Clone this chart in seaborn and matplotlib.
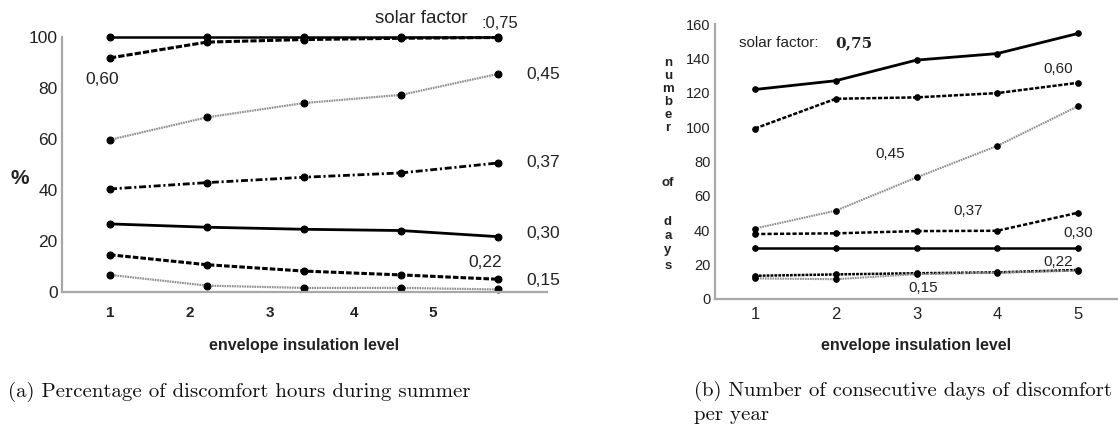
import numpy as np
import pandas as pd
import seaborn as sns
import matplotlib.pyplot as plt

# ---------------- data ----------------
levels = [1, 2, 3, 4, 5]
factors = ['0,75', '0,60', '0,45', '0,37', '0,30', '0,22', '0,15']

pct_075 = [100.0, 100.0, 100.0, 100.0, 100.0]
pct_060 = [91.8, 98.0, 99.0, 99.5, 99.8]
pct_045 = [59.7, 68.5, 74.1, 77.3, 85.5]
pct_037 = [40.4, 42.9, 45.0, 46.7, 50.6]
pct_030 = [26.7, 25.4, 24.6, 24.1, 21.7]
pct_022 = [14.6, 10.7, 8.2, 6.7, 5.0]
pct_015 = [6.7, 2.5, 1.6, 1.6, 1.0]

days_075 = [121.9, 127.0, 139.0, 142.8, 154.5]
days_060 = [99.2, 116.5, 117.3, 119.8, 125.8]
days_045 = [41.0, 51.4, 70.7, 89.1, 112.2]
days_037 = [37.8, 38.2, 39.5, 39.7, 50.2]
days_030 = [29.5, 29.5, 29.5, 29.5, 29.5]
days_022 = [13.5, 14.3, 15.0, 15.5, 16.9]
days_015 = [12.0, 11.5, 14.5, 15.3, 16.5]

pct_tick_labels = ['1', '2', '3', '4', '5']
days_tick_labels = ['1', '2', '3', '4', '5']

pct_series = [pct_075, pct_060, pct_045, pct_037, pct_030, pct_022, pct_015]
days_series = [days_075, days_060, days_045, days_037, days_030, days_022, days_015]

# ---------------- style ----------------
sns.set_theme(style='white')
plt.rcParams['font.family'] = ['Liberation Sans', 'DejaVu Sans']
plt.rcParams['lines.scale_dashes'] = False

GRAY = '#8f8f8f'
SPINE = '#a8a8a8'
TXT = '#222222'

left_styles = {
    '0,75': dict(color='black', lw=1.8, ls='-'),
    '0,60': dict(color='black', lw=2.2, ls=(0, (4.5, 1.5))),
    '0,45': dict(color=GRAY, lw=1.6, ls=(0, (1.2, 0.6))),
    '0,37': dict(color='black', lw=2.0, ls=(0, (5, 2, 1.5, 2))),
    '0,30': dict(color='black', lw=2.0, ls='-'),
    '0,22': dict(color='black', lw=2.2, ls=(0, (4, 1.5))),
    '0,15': dict(color=GRAY, lw=1.6, ls=(0, (1.2, 0.6))),
}
right_styles = {
    '0,75': dict(color='black', lw=2.0, ls='-'),
    '0,60': dict(color='black', lw=1.8, ls=(0, (3, 1.2))),
    '0,45': dict(color=GRAY, lw=1.5, ls=(0, (1.2, 0.6))),
    '0,37': dict(color='black', lw=1.8, ls=(0, (3, 1.5))),
    '0,30': dict(color='black', lw=1.8, ls='-'),
    '0,22': dict(color='black', lw=1.8, ls=(0, (2, 0.8))),
    '0,15': dict(color=GRAY, lw=1.5, ls=(0, (1.2, 0.6))),
}

fig = plt.figure(figsize=(11.18, 4.26), dpi=100)
W, H = 1118, 426
axL = fig.add_axes([62 / W, 1 - 292 / H, (547 - 62) / W, (292 - 37) / H])
axR = fig.add_axes([714.6 / W, 1 - 299 / H, 403.8 / W, (299 - 24) / H])


def draw(ax, series, styles, ms):
    for f, vals in zip(factors, series):
        st = styles[f]
        sns.lineplot(x=levels, y=vals, ax=ax, color=st['color'], linewidth=st['lw'],
                     linestyle=st['ls'], marker='o', markersize=ms,
                     markerfacecolor='black', markeredgecolor='black',
                     clip_on=False, legend=False, errorbar=None)


draw(axL, pct_series, left_styles, 5)
draw(axR, days_series, right_styles, 4)

for ax in (axL, axR):
    sns.despine(ax=ax)
    for s in ('left', 'bottom'):
        ax.spines[s].set_color(SPINE)
        ax.spines[s].set_linewidth(1.6)
    ax.tick_params(direction='in', length=3, color=SPINE, width=1, pad=3, colors=TXT)
    ax.set_xlabel('envelope insulation level', fontsize=11.5, fontweight='bold',
                  color=TXT, labelpad=13)
    ax.set_ylabel('')

# left axes
axL.set_xlim(0.505, 5.505)
axL.set_ylim(0, 100)
axL.set_yticks([0, 20, 40, 60, 80, 100])
axL.set_yticklabels(['0', '20', '40', '60', '80', '100'], fontsize=12.5)
axL.set_xticks([1, 1.82, 2.65, 3.52, 4.33])
axL.set_xticklabels(pct_tick_labels, fontsize=11, fontweight='bold')
axL.tick_params(axis='x', pad=10)

# right axes
axR.set_xlim(0.5, 5.5)
axR.set_ylim(0, 160)
axR.set_yticks([0, 20, 40, 60, 80, 100, 120, 140, 160])
axR.set_yticklabels(['0', '20', '40', '60', '80', '100', '120', '140', '160'], fontsize=10.5)
axR.set_xticks(levels)
axR.set_xticklabels(days_tick_labels, fontsize=12)
axR.tick_params(axis='x', pad=6)
axR.xaxis.labelpad = 11

# ---------------- annotations ----------------
tk = dict(color=TXT, ha='center', va='center', clip_on=False)
axL.text(4.206, 107.1, 'solar factor', fontsize=13.5, **tk)
axL.text(5.02, 105.1, ':0,75', fontsize=12, **tk)
axL.text(0.918, 83.5, '0,60', fontsize=12.5, **tk)
axL.text(5.464, 85.1, '0,45', fontsize=12.5, **tk)
axL.text(5.464, 50.6, '0,37', fontsize=12.5, **tk)
axL.text(5.464, 23.1, '0,30', fontsize=12.5, **tk)
axL.text(4.866, 11.4, '0,22', fontsize=12.5, **tk)
axL.text(5.464, 4.7, '0,15', fontsize=12.5, **tk)

axR.text(0.802, 148.8, 'solar factor:', fontsize=11, color=TXT, ha='left', va='center')
axR.text(1.99, 148.8, '0,75', fontsize=11, fontweight='bold', family=['DejaVu Serif'],
         color=TXT, ha='left', va='center')
axR.text(4.752, 133.7, '0,60', fontsize=11, **tk)
axR.text(2.672, 84.3, '0,45', fontsize=11, **tk)
axR.text(3.638, 51.2, '0,37', fontsize=11, **tk)
axR.text(5.0, 38.4, '0,30', fontsize=11, **tk)
axR.text(4.752, 21.5, '0,22', fontsize=11, **tk)
axR.text(3.08, 6.4, '0,15', fontsize=11, **tk)

# y labels
fig.text(20 / W, 1 - 178 / H, '%', fontsize=15, fontweight='bold', color=TXT,
         ha='center', va='center')
for letter, py in zip(['n', 'u', 'm', 'b', 'e', 'r'], [63, 76, 89, 102, 115, 128]):
    fig.text(668 / W, 1 - py / H, letter, fontsize=9.5, fontweight='bold', color=TXT,
             ha='center', va='center')
fig.text(668 / W, 1 - 183 / H, 'of', fontsize=9.5, fontweight='bold', color=TXT,
         ha='center', va='center')
for letter, py in zip(['d', 'a', 'y', 's'], [222, 236, 250, 266]):
    fig.text(668 / W, 1 - py / H, letter, fontsize=9.5, fontweight='bold', color=TXT,
             ha='center', va='center')

# captions
cap = dict(fontsize=15.0, family=['cmr10', 'DejaVu Serif'], color='#111111', va='center')
fig.text(8 / W, 1 - 392 / H, '(a) Percentage of discomfort hours during summer', ha='left', **cap)
fig.text(694 / W, 1 - 391 / H, '(b) Number of consecutive days of discomfort', ha='left', **cap)
fig.text(694 / W, 1 - 415 / H, 'per year', ha='left', **cap)

fig.savefig('out.png', dpi=100)
